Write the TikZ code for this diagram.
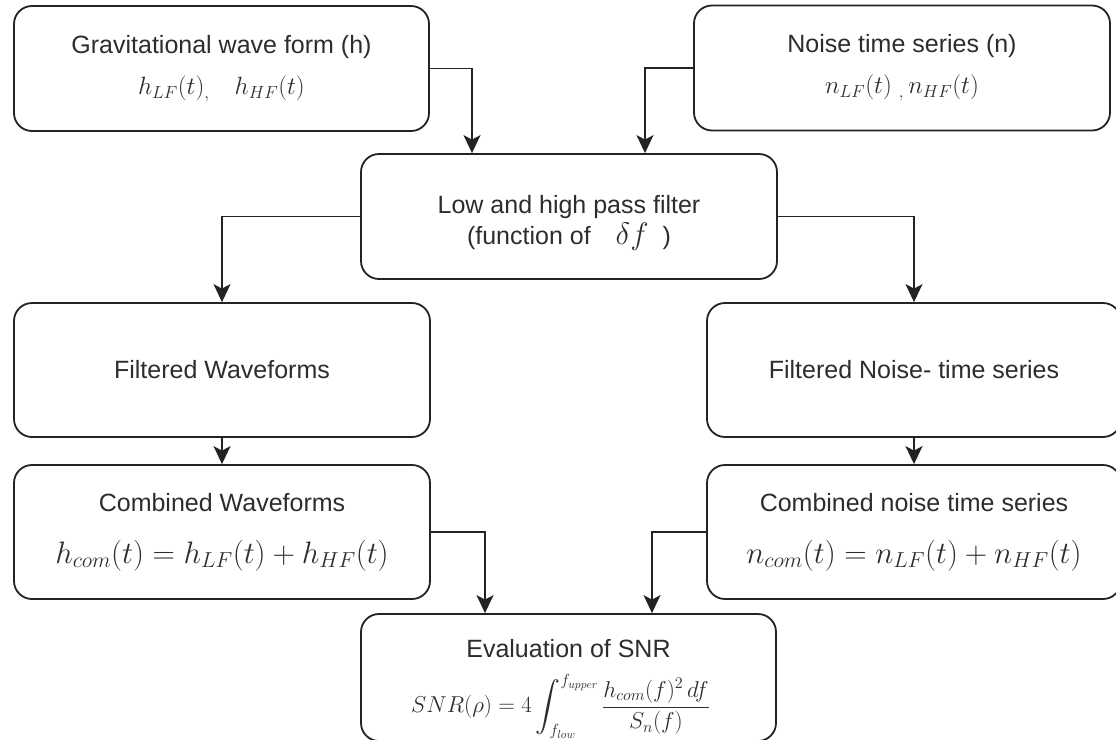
\documentclass[tikz,border=0pt]{standalone}
\usepackage{fix-cm}
\usepackage{amsmath}
\usepackage{fontspec}
\setmainfont{Liberation Sans}
\usetikzlibrary{arrows.meta,shapes,calc}
\definecolor{boxline}{RGB}{35,35,35}
\definecolor{boxtext}{RGB}{45,45,45}
\newcommand{\bigmath}[1]{{\fontsize{31}{36}\selectfont$#1$}}

\begin{document}
\begin{tikzpicture}[x=1pt,y=-1pt,
font=\fontsize{25}{30}\selectfont,
every node/.style={text=boxtext},
box/.style={draw=boxline,line width=1.8pt,rounded corners=18pt,
fill=white,align=center,inner sep=0pt,
minimum width=415pt,minimum height=125pt},
link/.style={draw=boxline,line width=1.6pt,
-{Stealth[length=18pt,width=17pt,inset=4.5pt]}}]
\useasboundingbox[fill=white] (0,0) rectangle (1116,739);

\node [box] (grav) at (221.5,68.5)
{Gravitational wave form (h)\\[11pt]$h_{LF}(t)_{,}\quad h_{HF}(t)$};
\node [box,minimum width=416pt] (noise) at (902,68)
{Noise time series (n)\\[11pt]$n_{LF}(t)\ {}_{,}\,n_{HF}(t)$};
\node [box,minimum width=416pt] (filt) at (569,216.5)
{\rule{0pt}{32pt}Low and high pass filter\\[1pt](function of\quad\bigmath{\delta f}\hspace{14pt})};
\node [box,minimum height=134pt,minimum width=416pt] (filtwave) at (222,370)
{Filtered Waveforms};
\node [box,minimum height=134pt,minimum width=414pt] (filtnoise) at (914,370)
{Filtered Noise- time series};
\node [box,minimum height=134pt,minimum width=416pt] (combwave) at (222,532)
{Combined Waveforms\\[22pt]\bigmath{h_{com}(t)=h_{LF}(t)+h_{HF}(t)}};
\node [box,minimum height=134pt,minimum width=414pt] (combnoise) at (914,532)
{Combined noise time series\\[22pt]\bigmath{n_{com}(t)=n_{LF}(t)+n_{HF}(t)}};
\node [box,minimum height=127pt] (snr) at (568.5,677.5)
{\rule{0pt}{41pt}Evaluation of SNR\\[16pt]{\fontsize{23}{27}\selectfont
$\displaystyle SNR(\rho)=4\int_{f_{low}}^{f_{upper}}\frac{h_{com}(f)^2\,df}{S_n(f)}$\kern16pt}};

\draw [link] (grav.east) -| ([xshift=-97pt]filt.north);
\draw [link] (noise.west) -| ([xshift=76pt]filt.north);
\draw [link] (filt.west) -| (filtwave.north);
\draw [link] (filt.east) -| (filtnoise.north);
\draw [link] (filtwave.south) -- (combwave.north);
\draw [link] (filtnoise.south) -- (combnoise.north);
\draw [link] (combwave.east) -| ([xshift=-83.5pt]snr.north);
\draw [link] (combnoise.west) -| ([xshift=83.5pt]snr.north);
\end{tikzpicture}
\end{document}
